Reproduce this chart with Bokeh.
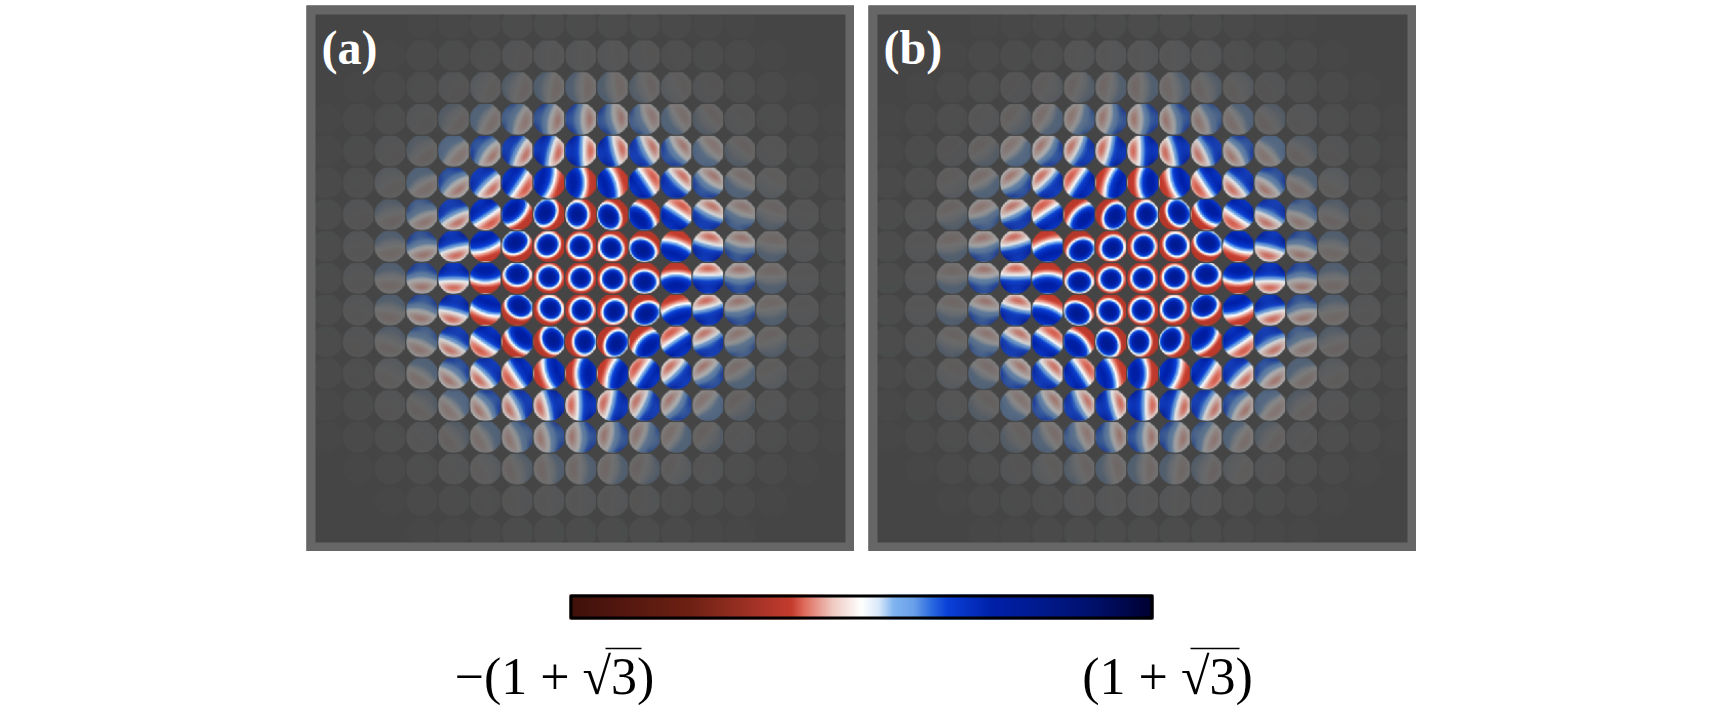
import numpy as np
from bokeh.core.properties import value
from bokeh.embed import file_html
from bokeh.layouts import column, row
from bokeh.models import LinearColorMapper, Spacer
from bokeh.plotting import figure
from bokeh.resources import INLINE

# opacity (percent) of every disk; top row first, columns -8..8
OPACITY = [
    [0, 0, 0, 1, 2, 3, 4, 4, 4, 4, 4, 3, 2, 1, 0, 0, 0],
    [0, 0, 1, 3, 4, 6, 9, 10, 10, 10, 9, 6, 4, 3, 1, 0, 0],
    [0, 1, 3, 5, 9, 14, 20, 24, 25, 24, 20, 14, 9, 5, 3, 1, 0],
    [1, 3, 5, 10, 18, 30, 42, 50, 54, 50, 42, 30, 18, 10, 5, 3, 1],
    [2, 4, 9, 18, 36, 56, 76, 86, 90, 86, 76, 56, 36, 18, 9, 4, 2],
    [3, 6, 14, 30, 56, 84, 96, 100, 100, 100, 96, 84, 56, 30, 14, 6, 3],
    [4, 9, 20, 42, 76, 96, 100, 100, 100, 100, 100, 96, 76, 42, 20, 9, 4],
    [4, 10, 24, 50, 86, 100, 100, 100, 100, 100, 100, 100, 86, 50, 24, 10, 4],
    [4, 10, 25, 54, 90, 100, 100, 100, 100, 100, 100, 100, 90, 54, 25, 10, 4],
    [4, 10, 24, 50, 86, 100, 100, 100, 100, 100, 100, 100, 86, 50, 24, 10, 4],
    [4, 9, 20, 42, 76, 96, 100, 100, 100, 100, 100, 96, 76, 42, 20, 9, 4],
    [3, 6, 14, 30, 56, 84, 96, 100, 100, 100, 96, 84, 56, 30, 14, 6, 3],
    [2, 4, 9, 18, 36, 56, 76, 86, 90, 86, 76, 56, 36, 18, 9, 4, 2],
    [1, 3, 5, 10, 18, 30, 42, 50, 54, 50, 42, 30, 18, 10, 5, 3, 1],
    [0, 1, 3, 5, 9, 14, 20, 24, 25, 24, 20, 14, 9, 5, 3, 1, 0],
    [0, 0, 1, 3, 4, 6, 9, 10, 10, 10, 9, 6, 4, 3, 1, 0, 0],
    [0, 0, 0, 1, 2, 3, 4, 4, 4, 4, 4, 3, 2, 1, 0, 0, 0],
]
# inner rings: a blob of blue around a displaced centre (ring distance, displacement, elongation)
INNER_DIST = [0, 1, 2, 3]
INNER_SHIFT = [0, .06, .24, .4]
INNER_STRETCH = [1, 1.03, 1.15, 1.5]
PROFILE_R = [0, .3, .6, .66, .72, .78, .85, 1.0, 1.3, 1.6]
PROFILE_V = [.62, .52, .3, .12, 0, -.1, -.22, -.3, -.3, -.2]
# outer rings: value read along the axis of a disk, from its blue edge to its red edge
TAU = [-1, -.5, -.2, 0, .2, .4, .6, .8, 1]
OUTER_DIST = [3, 4, 5, 6, 7, 8, 9, 12]
OUTER_V = [
    [.36, .45, .36, .25, .06, -.12, -.22, -.26, -.28],
    [.33, .37, .29, .16, 0, -.14, -.2, -.16, 0],
    [.27, .23, .14, .06, -.03, -.12, -.15, -.09, .02],
    [.14, .1, .05, .02, -.04, -.08, -.08, -.04, .02],
    [.05, .03, .015, 0, -.02, -.04, -.03, -.01, .01],
    [.03, .02, .01, 0, -.01, -.01, -.01, 0, 0],
    [.01, .01, 0, 0, 0, 0, 0, 0, 0],
    [0, 0, 0, 0, 0, 0, 0, 0, 0],
]
OUTER_CURVE = [.15, .2, .2, .2, .2, .2, .2, .2]
OUTER_LATERAL = [0, .2, .18, .08, .04, .02, 0, 0]
CMAP_POS = [0, .1, .2, .3, .38, .404, .45, .5, .53, .555, .59, .62, .647, .726, .8, .9, 1]
CMAP_HEX = ["#3f1009", "#551810", "#6b2012", "#9a3024", "#c43c2e", "#e07060", "#efc8c0", "#ffffff",
            "#d8e8fa", "#80b4f0", "#6aa0ea", "#2a6ae0", "#0a40d8", "#0020a8", "#001a90", "#00106a", "#000030"]
PANELS = ["(a)", "(b)"]
SIGNS = [-1, 1]
BAR_LABELS = ["\u2212(1 + \u221a3)", "(1 + \u221a3)"]
BAR_MAX = 2.732
ROOT_BAR_PX = [(-256, -220), (329, 378)]

rgb = np.array([[int(h[i:i + 2], 16) for i in (1, 3, 5)] for h in CMAP_HEX], float)
outer_v = np.array(OUTER_V)


def cmap(v):
    t = (np.clip(v, -1, 1) + 1) / 2
    return np.stack([np.interp(t, CMAP_POS, rgb[:, k]) for k in range(3)], -1)


N = 46
g = (np.arange(N) + .5) / N * 2 - 1
U, V = np.meshgrid(g, g)
RAD = np.hypot(U, V)


def soften(a):
    for ax in (0, 1):
        a = (np.roll(a, 1, ax) + 2 * a + np.roll(a, -1, ax)) / 4
    return a


def disk(col, rw, sign, op):
    dist = np.hypot(col, rw)
    if dist > 0:
        dx, dy = sign * rw / dist, sign * col / dist
    else:
        dx, dy = 1.0, 0.0
    t = U * dx + V * dy          # towards the blue side
    s = -U * dy + V * dx
    shift = np.interp(dist, INNER_DIST, INNER_SHIFT)
    b = np.interp(dist, INNER_DIST, INNER_STRETCH)
    inner = np.interp(np.sqrt((t - shift) ** 2 + (s / b) ** 2), PROFILE_R, PROFILE_V)
    row_v = [np.interp(dist, OUTER_DIST, outer_v[:, k]) for k in range(len(TAU))]
    curve = np.interp(dist, OUTER_DIST, OUTER_CURVE)
    lateral = np.interp(dist, OUTER_DIST, OUTER_LATERAL)
    outer = np.interp(-t + curve * s ** 2, TAU, row_v) + lateral * s ** 2
    w = np.clip(3.3 - dist, 0, 1)
    f = soften(w * inner + (1 - w) * outer)
    col_rgb = cmap(f)
    alpha = np.clip((1 - RAD) * N / 4 + .5, 0, 1) * op / 100
    img = np.dstack([col_rgb, alpha * 255]).round().astype(np.uint8)
    return img.view(dtype=np.uint32).reshape(N, N)


def panel(label, sign):
    hw, hh = 274 / 31.8, 273 / 31.8
    p = figure(width=548, height=546, x_range=(-hw, hw), y_range=(-hh, hh), toolbar_location=None,
               output_backend="svg", min_border=0, background_fill_color="#454545", outline_line_color=None)
    p.axis.visible = False
    p.grid.visible = False
    imgs, xs, ys = [], [], []
    for r_i, line in enumerate(OPACITY):
        for c_i, op in enumerate(line):
            if op == 0:
                continue
            col, rw = c_i - 8, 8 - r_i
            imgs.append(disk(col, rw, sign, op))
            xs.append(col - .485)
            ys.append(rw - .485)
    p.image_rgba(image=imgs, x=xs, y=ys, dw=.97, dh=.97)
    p.rect(x=[0], y=[0], width=2 * hw, height=2 * hh, fill_alpha=0, line_color="#666666", line_width=18)
    p.text(x=[-hw + 15 / 31.8], y=[hh - 15 / 31.8], text=[label], text_color="white", text_font=value("Liberation Serif"),
           text_font_size="48px", text_font_style="bold", text_baseline="top", text_align="left")
    return p


pa = panel(PANELS[0], SIGNS[0])
pb = panel(PANELS[1], SIGNS[1])

# colour bar: 584 px wide for the whole value range
px = 2 * BAR_MAX / 584
bar = figure(width=830, height=121, x_range=(-421 * px, 409 * px), y_range=(121, 0), toolbar_location=None,
             output_backend="svg", min_border=0, outline_line_color=None)
bar.axis.visible = False
bar.grid.visible = False
vals = np.linspace(-1, 1, 584)
palette = ["#%02x%02x%02x" % tuple(int(round(x)) for x in c) for c in cmap(vals)]
mapper = LinearColorMapper(palette=palette, low=-BAR_MAX, high=BAR_MAX)
bar.image(image=[np.linspace(-BAR_MAX, BAR_MAX, 584).reshape(1, -1)], x=-BAR_MAX, y=9, dw=2 * BAR_MAX, dh=25, color_mapper=mapper)
bar.rect(x=[0], y=[21.5], width=2 * BAR_MAX - 3 * px, height=22, fill_alpha=0, line_color="black", line_width=3)
bar.text(x=[-307 * px, 306 * px], y=[91, 91], text=BAR_LABELS, text_color="black", text_font=value("Liberation Serif"),
         text_font_size="52px", text_baseline="middle", text_align="center")
bar.segment(x0=[a * px for a, _ in ROOT_BAR_PX], x1=[b * px for _, b in ROOT_BAR_PX], y0=[63, 63], y1=[63, 63],
            line_color="black", line_width=1.5)

layout = column(
    row(Spacer(width=306, height=546), pa, Spacer(width=14, height=546), pb),
    Spacer(width=10, height=34),
    row(Spacer(width=440, height=121), bar),
    margin=(5, 0, 0, 0),
)
open("out.html", "w").write(file_html(layout, INLINE))
